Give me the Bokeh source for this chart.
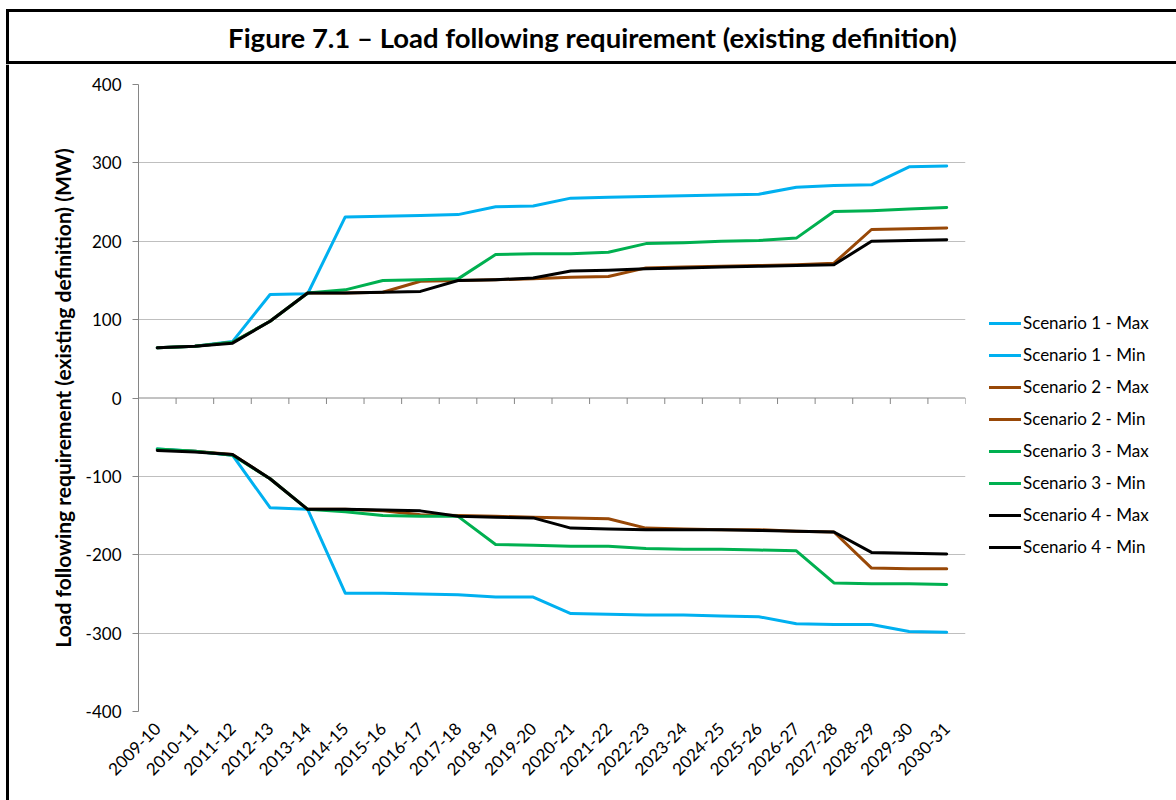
import math
from bokeh.plotting import figure
from bokeh.layouts import column, row
from bokeh.models import (FactorRange, Range1d, FixedTicker, Span,
                          Label, Legend, LegendItem, ColumnDataSource)
from bokeh.transform import dodge
from bokeh.embed import file_html
from bokeh.resources import INLINE

# ---------------- data ----------------
categories = ["2009-10", "2010-11", "2011-12", "2012-13", "2013-14", "2014-15",
              "2015-16", "2016-17", "2017-18", "2018-19", "2019-20", "2020-21",
              "2021-22", "2022-23", "2023-24", "2024-25", "2025-26", "2026-27",
              "2027-28", "2028-29", "2029-30", "2030-31"]

s1_max = [64, 66, 72, 132, 133, 231, 232, 233, 234, 244, 245, 255, 256, 257, 258, 259, 260, 269, 271, 272, 295, 296]
s1_min = [-65, -68, -73, -140, -142, -249, -249, -250, -251, -254, -254, -275, -276, -277, -277, -278, -279, -288, -289, -289, -298, -299]
s2_max = [64, 66, 71, 98, 134, 134, 135, 149, 150, 151, 152, 154, 155, 166, 167, 168, 169, 170, 172, 215, 216, 217]
s2_min = [-66, -68, -72, -103, -142, -142, -144, -149, -150, -151, -152, -153, -154, -166, -167, -168, -168, -170, -171, -217, -218, -218]
s3_max = [64, 66, 71, 98, 134, 138, 150, 151, 152, 183, 184, 184, 186, 197, 198, 200, 201, 204, 238, 239, 241, 243]
s3_min = [-65, -68, -73, -103, -142, -145, -150, -151, -151, -187, -188, -189, -189, -192, -193, -193, -194, -195, -236, -237, -237, -238]
s4_max = [64, 66, 70, 98, 134, 134, 135, 136, 150, 151, 153, 162, 163, 165, 166, 167, 168, 169, 170, 200, 201, 202]
s4_min = [-67, -69, -72, -103, -142, -142, -143, -144, -151, -152, -153, -166, -167, -168, -168, -168, -169, -170, -171, -197, -198, -199]

series_names = ["Scenario 1 - Max", "Scenario 1 - Min", "Scenario 2 - Max", "Scenario 2 - Min",
                "Scenario 3 - Max", "Scenario 3 - Min", "Scenario 4 - Max", "Scenario 4 - Min"]
series_values = [s1_max, s1_min, s2_max, s2_min, s3_max, s3_min, s4_max, s4_min]
series_colors = ["#00B0F0", "#00B0F0", "#984807", "#984807",
                 "#00B050", "#00B050", "#000000", "#000000"]

y_ticks = [-400, -300, -200, -100, 0, 100, 200, 300, 400]

title_text = "Figure 7.1 \u2013 Load following requirement (existing definition)"
y_label = "Load following requirement (existing definition) (MW)"

FONT = "Lato"
TOTAL_W, TOTAL_H = 1176, 800
TITLE_H = 64
STRIP_W = 10
BORDER_X, TITLE_TOP, TITLE_BOTTOM = 7, 10, 62

# ---------------- title band (pixel-unit ranges) ----------------
tf = figure(width=TOTAL_W, height=TITLE_H,
            x_range=Range1d(0, TOTAL_W), y_range=Range1d(TITLE_H, 0),
            min_border=0, min_border_left=0, min_border_right=0,
            min_border_top=0, min_border_bottom=0,
            x_axis_location=None, y_axis_location=None,
            output_backend="svg", toolbar_location=None,
            outline_line_color=None, background_fill_color="white",
            border_fill_color="white")
tf.frame_align = False
tf.xgrid.grid_line_color = None
tf.ygrid.grid_line_color = None
# open-ended frame: left edge, top edge, separator (right edge is off-page)
frame_src = ColumnDataSource(dict(
    x0=[BORDER_X, BORDER_X - 1.5, BORDER_X - 1.5],
    y0=[TITLE_TOP - 1.5, TITLE_TOP, TITLE_BOTTOM],
    x1=[BORDER_X, TOTAL_W + 20, TOTAL_W + 20],
    y1=[TITLE_H + 2, TITLE_TOP, TITLE_BOTTOM]))
tf.segment(x0="x0", y0="y0", x1="x1", y1="y1", source=frame_src,
           line_color="black", line_width=3, line_cap="butt")
tf.add_layout(Label(x=592, y=37, text=title_text, text_align="center",
                    text_baseline="middle", text_font=FONT,
                    text_font_style="bold", text_font_size="27.5px",
                    text_color="#000000"))

# ---------------- left frame strip ----------------
MAIN_H = TOTAL_H - TITLE_H
sf = figure(width=STRIP_W, height=MAIN_H,
            x_range=Range1d(0, STRIP_W), y_range=Range1d(0, 1),
            min_border=0, min_border_left=0, min_border_right=0,
            min_border_top=0, min_border_bottom=0,
            x_axis_location=None, y_axis_location=None,
            output_backend="svg", toolbar_location=None,
            outline_line_color=None, background_fill_color="white",
            border_fill_color="white")
sf.frame_align = False
sf.xgrid.grid_line_color = None
sf.ygrid.grid_line_color = None
sf.add_layout(Span(location=BORDER_X, dimension="height", line_color="black", line_width=3))

# ---------------- main chart ----------------
FRAME_W, FRAME_H = 827, 627
Y_MIN, Y_MAX = -400, 400
MAIN_W = TOTAL_W - STRIP_W
BL, BT = 128, 20

p = figure(x_range=FactorRange(factors=categories, range_padding=0),
           y_range=Range1d(Y_MIN, Y_MAX),
           frame_width=FRAME_W, frame_height=FRAME_H,
           min_border_left=BL, min_border_right=MAIN_W - BL - FRAME_W,
           min_border_top=BT, min_border_bottom=MAIN_H - BT - FRAME_H,
           output_backend="svg", toolbar_location=None,
           background_fill_color="white", border_fill_color="white",
           outline_line_color=None)
p.frame_align = False

# y axis
p.yaxis.ticker = FixedTicker(ticks=y_ticks)
p.yaxis.major_label_overrides = {t: str(t) for t in y_ticks}
p.yaxis.axis_line_color = "#868686"
p.yaxis.major_tick_line_color = "#868686"
p.yaxis.major_tick_out = 6
p.yaxis.major_tick_in = 0
p.yaxis.minor_tick_line_color = None
p.yaxis.major_label_text_font = FONT
p.yaxis.major_label_text_font_size = "17px"
p.yaxis.major_label_text_color = "#000000"
p.yaxis.major_label_standoff = 11
p.yaxis.axis_label = y_label
p.yaxis.axis_label_text_font = FONT
p.yaxis.axis_label_text_font_style = "bold"
p.yaxis.axis_label_text_font_size = "21px"
p.yaxis.axis_label_text_color = "#000000"
p.yaxis.axis_label_standoff = 8

# x axis (labels only, at bottom)
p.xaxis.axis_line_color = None
p.xaxis.major_tick_line_color = None
p.xaxis.minor_tick_line_color = None
p.xaxis.major_label_orientation = math.pi / 4
p.xaxis.major_label_text_font = FONT
p.xaxis.major_label_text_font_size = "17px"
p.xaxis.major_label_text_color = "#000000"
p.xaxis.major_label_standoff = 8

# grids
p.xgrid.grid_line_color = None
p.ygrid.ticker = FixedTicker(ticks=[t for t in y_ticks if t != 0])
p.ygrid.grid_line_color = "#BFBFBF"
p.ygrid.grid_line_width = 1

# zero axis line with downward ticks between categories
p.add_layout(Span(location=0, dimension="width", line_color="#868686",
                  line_width=1, level="underlay"))
tick_len = (Y_MAX - Y_MIN) / FRAME_H * 6
tick_src = ColumnDataSource(dict(cat=categories))
p.segment(x0=dodge("cat", 0.5, range=p.x_range), y0=0,
          x1=dodge("cat", 0.5, range=p.x_range), y1=-tick_len,
          source=tick_src, line_color="#868686", line_width=1, level="underlay")

# series
items = []
for name, vals, col in zip(series_names, series_values, series_colors):
    src = ColumnDataSource(dict(x=categories, y=vals))
    r = p.line("x", "y", source=src, line_color=col, line_width=3,
               line_join="round", line_cap="round")
    items.append(LegendItem(label=name, renderers=[r]))

legend = Legend(items=items, location=(24, 154), orientation="vertical",
                glyph_width=32, glyph_height=20, label_height=20, spacing=11,
                label_standoff=2, padding=0, margin=0,
                border_line_color=None, background_fill_alpha=0,
                label_text_font=FONT, label_text_font_size="17px",
                label_text_color="#000000", label_text_baseline="middle")
p.add_layout(legend, "right")

layout = column(tf, row(sf, p, spacing=0), spacing=0)

open("out.html", "w").write(file_html(layout, INLINE))
